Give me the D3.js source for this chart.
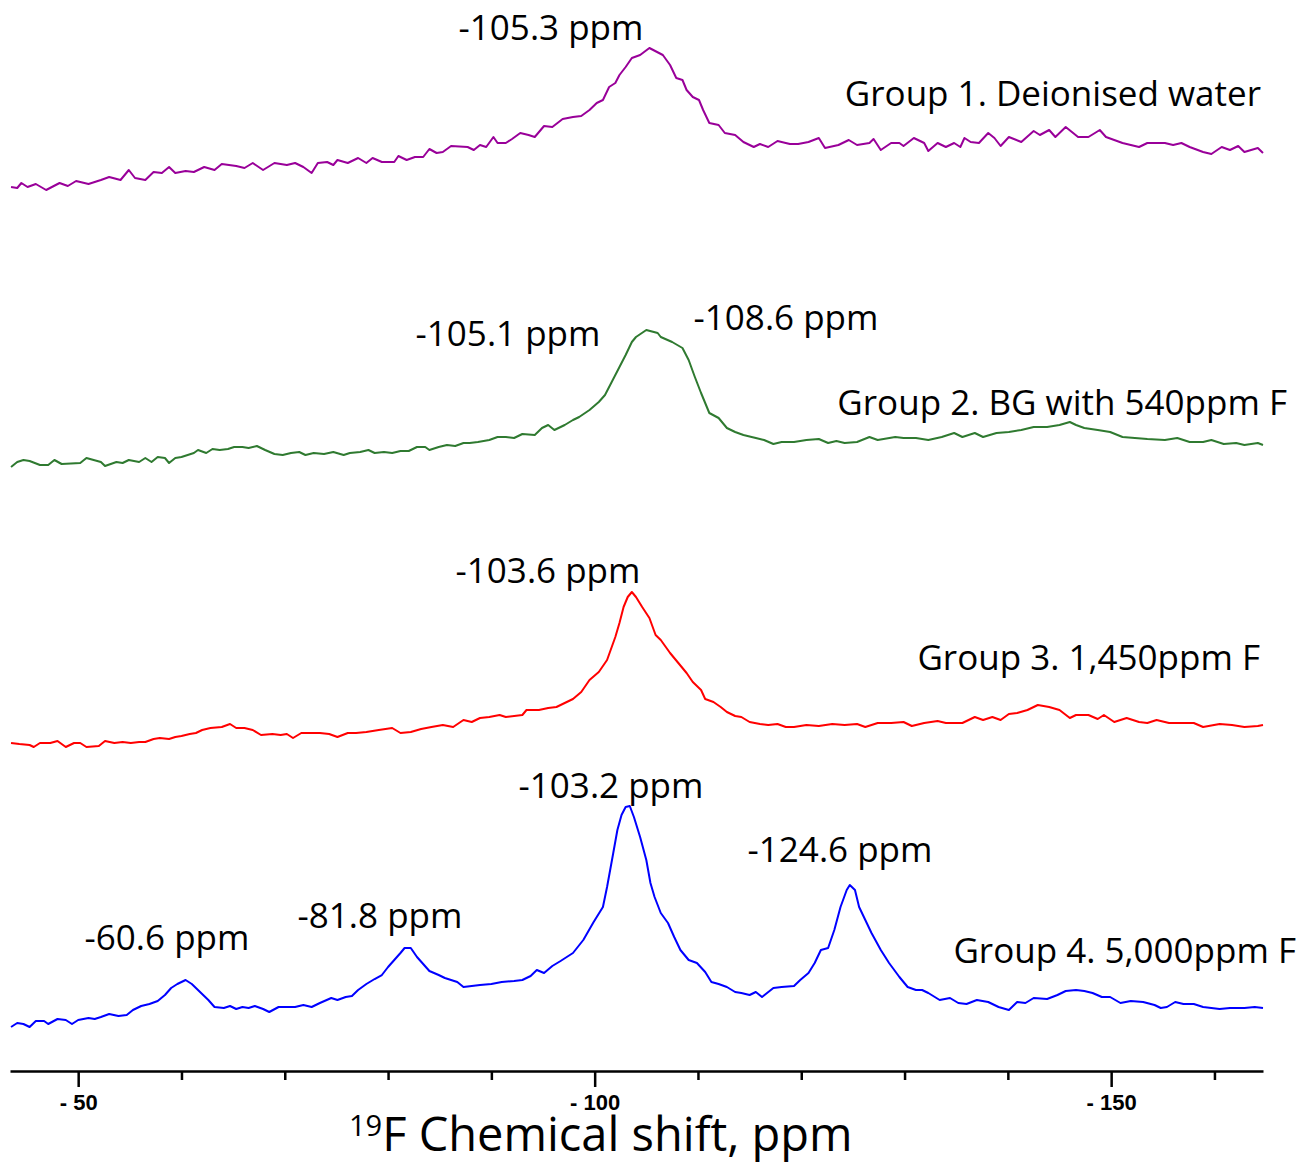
<!DOCTYPE html>
<html lang="en">
<head>
    <meta charset="UTF-8">
    <title>19F MAS-NMR spectra, Groups 1-4</title>
    <script src="https://d3js.org/d3.v7.min.js"></script>
    <style>
        body { margin: 0; background: #fff; }
        .label { font-family: "Open Sans", sans-serif; font-size: 35px; fill: #000; }
        .tick text { font-family: "Liberation Sans", Arial, sans-serif; font-weight: bold; font-size: 22px; }
    </style>
</head>
<body>
    <div id="chart"></div>

    <script>
        // spectra: [chemical shift (ppm), intensity (a.u.)]
        const group1 = [[-43.5,3],[-44.1,2],[-44.5,7],[-45.1,3],[-45.9,6],[-46.9,0],[-48.2,7],[-49.0,4],[-49.8,9],[-51.0,6],[-52.2,10],[-53.0,13],[-54.1,10],[-54.9,20],[-55.5,12],[-56.5,10],[-57.3,18],[-58.1,17],[-58.8,23],[-59.4,17],[-60.4,19],[-61.2,18],[-62.2,23],[-63.2,20],[-63.9,26],[-65.3,24],[-66.1,22],[-66.9,27],[-67.9,20],[-69.0,27],[-70.2,25],[-71.0,27],[-71.8,23],[-72.6,17],[-73.2,27],[-74.1,28],[-74.7,25],[-75.1,30],[-76.1,27],[-77.1,32],[-77.9,27],[-78.5,32],[-79.4,28],[-80.6,28],[-81.0,34],[-81.8,30],[-82.6,33],[-83.4,33],[-84.0,41],[-84.7,37],[-85.3,38],[-86.1,44],[-87.7,43],[-88.3,40],[-88.9,45],[-89.5,43],[-90.2,53],[-90.6,47],[-91.4,47],[-92.0,51],[-92.8,57],[-93.6,55],[-94.2,53],[-95.1,64],[-95.9,63],[-96.9,71],[-97.9,73],[-98.7,74],[-99.5,80],[-100.2,87],[-100.8,90],[-101.4,103],[-102.0,107],[-102.4,115],[-103.0,123],[-103.6,132],[-104.4,135],[-105.3,142],[-106.6,135],[-107.3,125],[-107.9,112],[-108.5,110],[-108.9,100],[-109.5,93],[-110.1,90],[-110.5,80],[-111.1,67],[-112.0,65],[-112.6,57],[-113.6,55],[-114.4,48],[-115.4,43],[-116.0,46],[-116.8,43],[-117.7,49],[-118.9,46],[-119.7,46],[-120.7,48],[-121.7,52],[-122.3,42],[-123.6,45],[-124.6,50],[-125.4,45],[-126.6,47],[-127.0,51],[-127.7,40],[-128.7,47],[-129.5,47],[-129.9,44],[-130.9,52],[-131.9,47],[-132.3,39],[-133.2,47],[-134.0,43],[-134.8,47],[-135.4,43],[-135.8,52],[-136.4,48],[-137.2,47],[-138.1,57],[-138.7,52],[-139.3,44],[-140.1,53],[-141.3,48],[-142.5,59],[-143.1,55],[-144.0,60],[-144.6,53],[-145.6,63],[-146.2,58],[-146.8,53],[-147.8,53],[-148.9,60],[-149.5,53],[-150.3,50],[-151.1,47],[-152.7,43],[-153.5,47],[-155.2,47],[-156.0,45],[-156.8,47],[-157.6,43],[-158.9,38],[-159.7,36],[-160.7,43],[-161.5,40],[-162.3,44],[-162.9,38],[-164.2,42],[-164.7,37]];

        const group2 = [[-43.5,1],[-44.1,6],[-44.7,8],[-45.3,7],[-46.3,3],[-47.1,3],[-47.7,8],[-48.4,4],[-50.2,5],[-50.8,10],[-52.2,6],[-52.6,2],[-53.7,6],[-54.3,5],[-54.9,8],[-55.9,6],[-56.5,10],[-57.1,6],[-57.7,11],[-58.4,10],[-58.8,5],[-59.4,10],[-60.0,11],[-60.6,13],[-61.2,15],[-61.6,18],[-62.4,15],[-63.0,19],[-63.7,18],[-64.5,19],[-65.1,21],[-65.9,21],[-66.5,20],[-67.3,22],[-68.1,18],[-69.0,14],[-69.8,13],[-70.6,15],[-71.4,16],[-72.0,13],[-72.8,15],[-73.8,14],[-74.7,16],[-75.7,13],[-76.3,15],[-77.3,16],[-78.1,18],[-78.7,15],[-79.6,16],[-80.4,15],[-81.2,17],[-82.0,17],[-82.8,21],[-83.6,21],[-84.0,18],[-84.9,21],[-85.7,23],[-86.5,22],[-87.3,25],[-87.9,25],[-88.7,26],[-89.8,28],[-90.6,31],[-91.4,31],[-92.2,30],[-93.0,34],[-94.2,33],[-94.9,40],[-95.5,43],[-96.1,38],[-97.1,43],[-97.9,48],[-98.5,51],[-99.5,58],[-100.4,66],[-101.0,73],[-101.6,85],[-102.4,101],[-103.0,113],[-103.6,126],[-104.0,131],[-105.0,138],[-106.1,135],[-106.4,131],[-107.5,126],[-108.5,120],[-109.1,108],[-109.7,91],[-110.3,75],[-111.1,55],[-112.0,50],[-112.8,40],[-113.6,36],[-114.4,33],[-115.6,30],[-116.4,28],[-117.3,24],[-118.1,26],[-119.3,26],[-120.5,28],[-121.7,29],[-122.6,25],[-123.4,27],[-124.2,25],[-125.4,26],[-126.6,31],[-127.4,28],[-129.1,31],[-129.9,30],[-131.1,30],[-132.3,28],[-133.6,31],[-134.8,35],[-135.6,31],[-136.8,35],[-137.6,31],[-138.9,35],[-140.1,36],[-141.3,38],[-142.5,41],[-143.8,41],[-145.0,43],[-146.0,46],[-146.6,43],[-147.4,40],[-148.7,38],[-149.9,36],[-151.1,31],[-152.3,30],[-153.5,29],[-155.2,28],[-156.4,30],[-157.6,26],[-158.9,26],[-159.7,28],[-160.9,24],[-162.1,25],[-162.9,23],[-164.2,25],[-164.7,23]];

        const group3 = [[-43.5,5],[-44.3,4],[-45.3,3],[-45.7,1],[-46.3,5],[-47.3,5],[-48.0,7],[-48.8,1],[-49.6,5],[-50.2,5],[-50.8,1],[-52.0,2],[-52.6,7],[-53.5,5],[-54.3,6],[-55.1,5],[-55.9,6],[-56.5,6],[-57.3,9],[-57.9,10],[-58.8,9],[-59.4,11],[-60.0,12],[-60.8,14],[-61.4,15],[-62.0,18],[-62.8,20],[-63.9,21],[-64.7,24],[-65.3,20],[-66.1,20],[-66.9,18],[-67.7,13],[-68.8,14],[-69.6,13],[-70.2,14],[-70.8,10],[-71.6,15],[-72.6,15],[-73.4,15],[-74.3,14],[-75.1,11],[-76.1,15],[-76.9,15],[-77.9,16],[-79.1,18],[-80.4,20],[-81.2,15],[-82.2,16],[-83.2,19],[-84.2,21],[-85.3,23],[-86.3,21],[-87.3,28],[-88.1,26],[-88.9,30],[-89.8,31],[-90.8,33],[-91.4,31],[-93.0,33],[-93.4,38],[-94.6,38],[-95.5,40],[-96.3,41],[-97.1,45],[-97.9,49],[-98.7,56],[-99.5,68],[-100.4,76],[-101.2,88],[-102.0,111],[-102.4,125],[-102.8,141],[-103.2,151],[-103.6,156],[-104.0,151],[-104.6,141],[-105.3,130],[-105.9,113],[-106.4,108],[-107.3,95],[-108.1,85],[-108.9,75],[-109.5,66],[-110.3,58],[-110.7,49],[-111.5,46],[-112.2,41],[-112.8,36],[-113.6,32],[-114.2,31],[-115.0,26],[-116.0,24],[-116.8,23],[-117.7,24],[-118.5,21],[-119.3,21],[-120.5,23],[-121.7,22],[-123.0,24],[-124.2,23],[-125.4,24],[-126.2,21],[-127.4,25],[-128.7,25],[-129.9,26],[-130.7,22],[-131.9,25],[-133.2,27],[-134.0,25],[-135.6,25],[-136.8,31],[-137.6,28],[-138.5,31],[-139.3,28],[-140.1,34],[-140.9,35],[-141.9,38],[-142.9,43],[-144.0,41],[-145.0,38],[-146.0,30],[-146.6,33],[-147.8,33],[-148.7,29],[-149.3,33],[-150.3,26],[-151.5,30],[-152.7,26],[-153.5,25],[-154.4,28],[-155.6,25],[-156.8,25],[-158.0,25],[-158.9,21],[-160.5,24],[-161.7,23],[-162.9,21],[-164.2,22],[-164.7,23]];

        const group4 = [[-43.5,1],[-44.1,5],[-44.7,4],[-45.3,1],[-45.9,7],[-46.7,7],[-47.1,4],[-48.0,9],[-48.8,8],[-49.4,4],[-50.0,8],[-51.0,10],[-51.6,9],[-52.2,11],[-53.0,14],[-53.9,12],[-54.7,13],[-55.3,18],[-56.1,22],[-56.9,24],[-57.7,27],[-58.4,33],[-59.0,40],[-59.6,44],[-60.4,48],[-61.0,44],[-61.6,38],[-62.2,32],[-62.6,28],[-63.2,21],[-64.1,20],[-64.7,22],[-65.3,19],[-65.9,21],[-66.5,20],[-67.1,22],[-67.9,19],[-68.5,16],[-69.4,21],[-70.2,21],[-71.0,21],[-71.8,23],[-72.6,21],[-73.4,25],[-74.5,30],[-75.1,28],[-75.9,31],[-76.5,32],[-77.1,38],[-77.9,44],[-78.7,49],[-79.4,53],[-80.0,61],[-80.6,68],[-81.2,75],[-81.6,80],[-82.2,80],[-82.8,71],[-83.4,64],[-84.0,57],[-84.9,53],[-85.5,50],[-86.1,48],[-86.7,46],[-87.3,41],[-88.1,42],[-88.9,43],[-90.0,44],[-91.0,46],[-92.2,47],[-93.0,48],[-93.8,52],[-94.4,58],[-95.1,55],[-95.9,62],[-96.7,67],[-97.9,75],[-98.9,88],[-99.9,106],[-100.8,121],[-101.2,141],[-101.8,175],[-102.2,198],[-102.6,213],[-103.0,221],[-103.4,222],[-103.8,211],[-104.4,191],[-105.0,168],[-105.4,145],[-105.8,131],[-106.4,115],[-107.1,105],[-107.7,91],[-108.3,78],[-109.1,68],[-109.9,65],[-110.7,56],[-111.3,46],[-112.0,44],[-112.8,41],[-113.6,36],[-114.2,35],[-115.0,33],[-115.6,36],[-116.2,31],[-117.3,40],[-118.1,41],[-119.3,42],[-119.9,48],[-120.7,55],[-121.3,65],[-121.9,78],[-122.6,80],[-123.2,98],[-123.8,121],[-124.4,138],[-124.7,143],[-125.2,138],[-125.6,121],[-126.2,108],[-126.8,95],[-127.7,78],[-128.5,65],[-129.5,51],[-130.3,41],[-131.1,38],[-131.7,38],[-132.3,35],[-133.4,28],[-134.4,30],[-135.2,25],[-136.0,24],[-137.0,28],[-138.1,26],[-139.1,21],[-140.1,18],[-140.9,26],[-141.7,25],[-142.5,30],[-143.8,29],[-144.8,33],[-145.6,37],[-146.6,38],[-147.4,37],[-148.2,35],[-149.1,31],[-149.9,31],[-150.9,25],[-151.9,27],[-153.1,26],[-154.2,23],[-154.8,20],[-155.4,21],[-156.2,26],[-157.0,24],[-158.0,24],[-158.9,21],[-159.7,20],[-160.5,19],[-161.5,20],[-162.9,20],[-163.9,21],[-164.7,20]];

        // vertical stacking offset of each spectrum (a.u.)
        const stackOffsets = [880, 602, 322, 42];
        const groupNames = ["Group 1. Deionised water", "Group 2. BG with 540ppm F", "Group 3. 1,450ppm F", "Group 4. 5,000ppm F"];
        const peakLabels = ["-105.3 ppm", "-105.1 ppm", "-108.6 ppm", "-103.6 ppm", "-103.2 ppm", "-124.6 ppm", "-60.6 ppm", "-81.8 ppm"];
        const majorTicks = [-50, -100, -150];
        const minorTicks = [-60, -70, -80, -90, -110, -120, -130, -140, -160];

        const spectra = [group1, group2, group3, group4];
        const colors = ["#990099", "#2f7a30", "#ff0000", "#0000ff"];

        const width = 1309, height = 1164;

        const svg = d3.select("#chart")
                      .append("svg")
                      .attr("width", width)
                      .attr("height", height);

        // ppm axis runs right to left like in NMR plots
        const x = d3.scaleLinear()
                    .domain([-43.4, -164.7])
                    .range([10, 1263]);

        const y = d3.scaleLinear()
                    .domain([0, 1050])
                    .range([1070, 20]);

        // draws each spectrum with its stacking offset
        spectra.forEach((data, i) => {
            svg.append("path")
               .datum(data)
               .attr("fill", "none")
               .attr("stroke", colors[i])
               .attr("stroke-width", 2)
               .attr("stroke-linejoin", "round")
               .attr("d", d3.line()
                             .x(d => x(d[0]))
                             .y(d => y(d[1] + stackOffsets[i])));
        });

        // x axis, major ticks with labels
        const axisY = 1071;
        const major = svg.append("g")
           .attr("transform", `translate(0,${axisY})`)
           .call(d3.axisBottom(x)
                   .tickValues(majorTicks)
                   .tickSize(16)
                   .tickSizeOuter(0)
                   .tickPadding(7)
                   .tickFormat(d => "- " + Math.abs(d)));
        major.select(".domain").attr("stroke-width", 2.5);
        major.selectAll(".tick line").attr("stroke-width", 2.5);

        // minor ticks every 10 ppm
        const minor = svg.append("g")
           .attr("transform", `translate(0,${axisY})`)
           .call(d3.axisBottom(x)
                   .tickValues(minorTicks)
                   .tickSize(9)
                   .tickFormat(""));
        minor.select(".domain").remove();
        minor.selectAll(".tick line").attr("stroke-width", 2.5);

        // axis title with superscript mass number
        const title = svg.append("text")
           .attr("x", 349)
           .attr("y", 1151)
           .style("font-family", '"Open Sans", sans-serif')
           .style("fill", "#000");
        title.append("tspan").attr("font-size", 29).attr("dy", -15).text("19");
        title.append("tspan").attr("font-size", 47).attr("dy", 15).text("F Chemical shift, ppm");

        // peak labels: centre x and baseline, in pixels
        const peakPos = [[551, 40], [508, 346], [786, 330], [548, 583], [611, 798], [840, 862], [167, 950], [380, 928]];
        svg.selectAll(".peak")
           .data(peakLabels)
           .enter()
           .append("text")
           .attr("class", "label peak")
           .attr("x", (d, i) => peakPos[i][0])
           .attr("y", (d, i) => peakPos[i][1])
           .attr("text-anchor", "middle")
           .text(d => d);

        // group names, right aligned
        const namePos = [[1261, 106], [1287, 415], [1260, 670], [1296, 963]];
        svg.selectAll(".group")
           .data(groupNames)
           .enter()
           .append("text")
           .attr("class", "label group")
           .attr("x", (d, i) => namePos[i][0])
           .attr("y", (d, i) => namePos[i][1])
           .attr("text-anchor", "end")
           .text(d => d);
    </script>
</body>
</html>
